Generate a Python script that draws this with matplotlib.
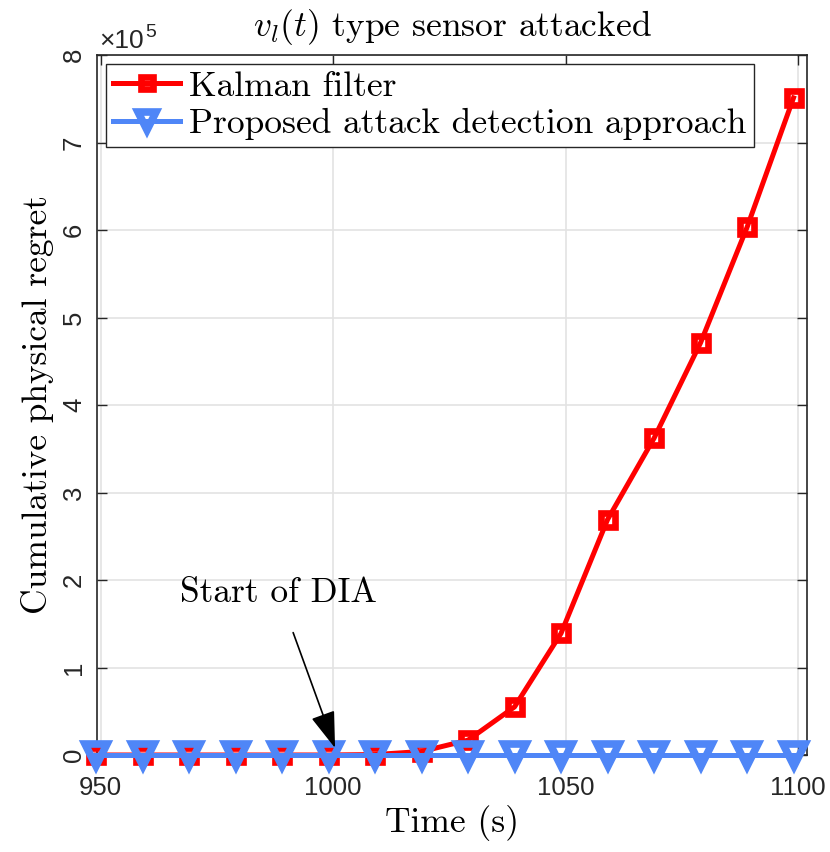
import numpy as np
import matplotlib
matplotlib.use("Agg")
import matplotlib.pyplot as plt

# data
time_s = [949, 959, 969, 979, 989, 999, 1009, 1019, 1029, 1039, 1049, 1059, 1069, 1079, 1089, 1099]
kalman = [0, 0, 0, 0, 0, 0, 500, 4000, 17000, 55000, 139000, 269000, 362000, 471000, 603000, 751000]
proposed = [0, 0, 0, 0, 0, 0, 0, 0, 0, 0, 0, 0, 0, 0, 0, 0]
x_ticks = [950, 1000, 1050, 1100]
y_ticks = [0, 1, 2, 3, 4, 5, 6, 7, 8]

plt.rcParams["mathtext.fontset"] = "cm"
plt.rcParams["axes.unicode_minus"] = False
serif = "cmr10"
sans = "Liberation Sans"
red = "#ff0000"
blue = "#4f86f7"
dark = "#262626"

fig = plt.figure(figsize=(8.3, 8.52), dpi=100)
ax = fig.add_axes([97 / 830, 1 - 755 / 852, 710 / 830, 700 / 852])

scale = 1e5
ax.plot(time_s, np.array(kalman) / scale, color=red, lw=3.6, marker="s", ms=10.5,
        mfc="none", mew=4.8, label="Kalman filter", zorder=3, clip_on=False)
ax.plot(time_s, np.array(proposed) / scale, color=blue, lw=3.6, marker="v", ms=16,
        mfc="none", mew=5.5, label="Proposed attack detection approach", zorder=4,
        clip_on=False)

ax.set_xlim(949.2, 1101.9)
ax.set_ylim(0, 8)
ax.set_xticks(x_ticks)
ax.set_yticks(y_ticks)
ax.set_xticklabels([str(v) for v in x_ticks], fontfamily=sans, fontsize=18.5, color=dark)
ax.set_yticklabels([str(v) for v in y_ticks], fontfamily=sans, fontsize=18.5, color=dark,
                   rotation=90, va="center")
ax.tick_params(direction="in", length=7, width=1, colors=dark, top=True, right=True,
               pad=8)
ax.tick_params(axis="x", pad=15)
ax.grid(True, color="#e3e3e3", lw=1.2)
ax.set_axisbelow(True)
for s in ax.spines.values():
    s.set_color(dark)
    s.set_linewidth(1.2)

# MATLAB-style exponent label
ax.annotate("\u00d710", xy=(0, 1), xycoords="axes fraction", xytext=(1.5, 5),
            textcoords="offset points", fontfamily=sans, fontsize=19, color=dark,
            va="baseline", ha="left")
ax.annotate("5", xy=(0, 1), xycoords="axes fraction", xytext=(34.5, 13),
            textcoords="offset points", fontfamily=sans, fontsize=14, color=dark,
            va="baseline", ha="left")

ax.set_title(r"$v_l(t)$ type sensor attacked", fontfamily=serif, fontsize=25.5, pad=14)
ax.set_xlabel("Time (s)", fontfamily=serif, fontsize=25.5, labelpad=4)
ax.set_ylabel("Cumulative physical regret", fontfamily=serif, fontsize=25.5, labelpad=6)

ax.annotate("Start of DIA", xy=(1000.4, 0.08), xytext=(988.3, 1.85),
            fontfamily=serif, fontsize=25.5, ha="center", va="center",
            arrowprops=dict(arrowstyle="-|>,head_length=0.9,head_width=0.3",
                            color="black", lw=1.2, shrinkA=16, shrinkB=0),
            zorder=5)

leg = ax.legend(loc="upper left", prop={"family": serif, "size": 25.5},
                fancybox=False, edgecolor=dark, framealpha=1, borderpad=0.2,
                handlelength=1.9, handletextpad=0.25, labelspacing=0.15,
                borderaxespad=0.25, markerscale=0.8)
leg.get_frame().set_linewidth(1.0)

fig.savefig("out.png", dpi=100)
